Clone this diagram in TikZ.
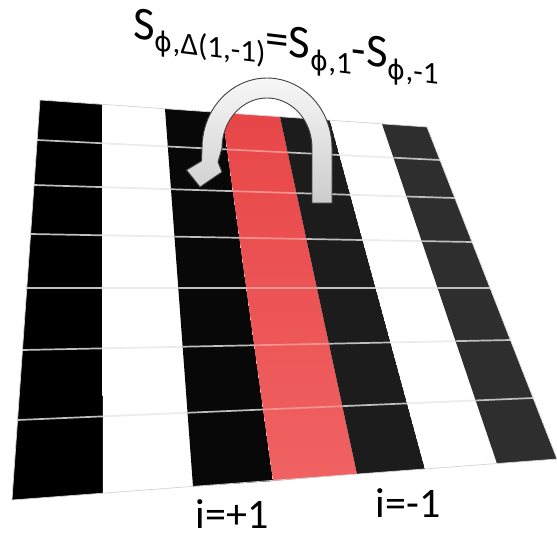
\documentclass[tikz,border=0pt]{standalone}
\usepackage{fontspec}
\setmainfont{Carlito}
\newfontfamily\phifont{DejaVu Sans}
\newcommand{\mysubtxt}[1]{\raisebox{-10pt}{\fontsize{31}{32}\selectfont #1}}
\newcommand{\myphi}{{\phifont\fontsize{27}{28}\selectfont ϕ}}
\definecolor{redA}{RGB}{232,70,72}
\definecolor{redB}{RGB}{240,98,98}
\begin{document}
\begin{tikzpicture}[x=1pt,y=-1pt,
  fillK/.style={fill=black},
  fillL/.style={fill=black!97},
  fillM/.style={fill=black!89},
  fillN/.style={fill=black!82},
  fillW/.style={fill=white},
  fillR/.style={top color=redA, bottom color=redB},
  rowline/.style={line width=1.7pt, shorten <=-8pt, shorten >=-8pt},
  lineK/.style={color=gray!50},
  lineW/.style={color=gray!16},
  lineR/.style={color=redB!70!white},
  arrowbody/.style={draw=black!75, line width=0.9pt, line join=round, top color=gray!6, bottom color=gray!40},
  lbl/.style={inner sep=0pt, font=\fontsize{42}{44}\selectfont},
]
\useasboundingbox (0,0) rectangle (557,539);

% top edge points
\coordinate (T0) at (40,100);
\coordinate (T1) at (102,104.3);
\coordinate (T2) at (165,108.7);
\coordinate (T3) at (222,112.7);
\coordinate (T4) at (280,116.7);
\coordinate (T5) at (330,120.2);
\coordinate (T6) at (382,123.9);
\coordinate (T7) at (427,127);
% bottom edge points
\coordinate (B0) at (12,500);
\coordinate (B1) at (103,493.2);
\coordinate (B2) at (193,486.4);
\coordinate (B3) at (273,481);
\coordinate (B4) at (357,474);
\coordinate (B5) at (425,468.9);
\coordinate (B6) at (497,463.5);
\coordinate (B7) at (557,459);
% row line end points
\coordinate (L1) at (37.2,140);   \coordinate (R1) at (439.9,160);
\coordinate (L2) at (34.05,185);  \coordinate (R2) at (454.8,198);
\coordinate (L3) at (30.6,234);   \coordinate (R3) at (472,242);
\coordinate (L4) at (26.8,288);   \coordinate (R4) at (490,288);
\coordinate (L5) at (22.5,350);   \coordinate (R5) at (510.4,340);
\coordinate (L6) at (17.6,420);   \coordinate (R6) at (533.1,398);

% columns with their row lines
\foreach \p/\q/\fc/\lc in {0/1/fillK/lineK, 1/2/fillW/lineW, 2/3/fillL/lineK, 3/4/fillR/lineR, 4/5/fillM/lineK, 5/6/fillW/lineW, 6/7/fillN/lineK}{
  \begin{scope}
    \clip (T\p) -- (T\q) -- (B\q) -- (B\p) -- cycle;
    \path[\fc] (T\p) -- (T\q) -- (B\q) -- (B\p) -- cycle;
    \foreach \r in {1,...,6}{
      \draw[rowline, \lc] (L\r) -- (R\r);
    }
  \end{scope}
}
% faint outline of the sheet
\draw[gray!35, line width=0.7pt, line join=round] (T0) -- (T7) -- (B7) -- (B0) -- cycle;

% curved arrow
\draw[arrowbody] (332,203) -- (332,148)
  -- plot[domain=0:180, samples=45] ({267+65*cos(\x)},{148-70*sin(\x)})
  -- (201.5,161) -- (186.5,170) -- (200,187) -- (222,172) -- (218,162)
  -- plot[domain=180:0, samples=45] ({267+45*cos(\x)},{148-50*sin(\x)})
  -- (312,203) -- cycle;

% formula
\node[anchor=base west, yslant=-0.12, inner sep=0pt, font=\fontsize{47}{50}\selectfont] (title) at (133,38)
  {S\mysubtxt{\myphi,Δ(1,-1)}=S\mysubtxt{\myphi,1}-S\mysubtxt{\myphi,-1}};

% labels
\node[lbl, anchor=base] (iplus) at (232,528) {i=+1};
\node[lbl, anchor=base] (iminus) at (408,517) {i=-1};
\end{tikzpicture}
\end{document}
